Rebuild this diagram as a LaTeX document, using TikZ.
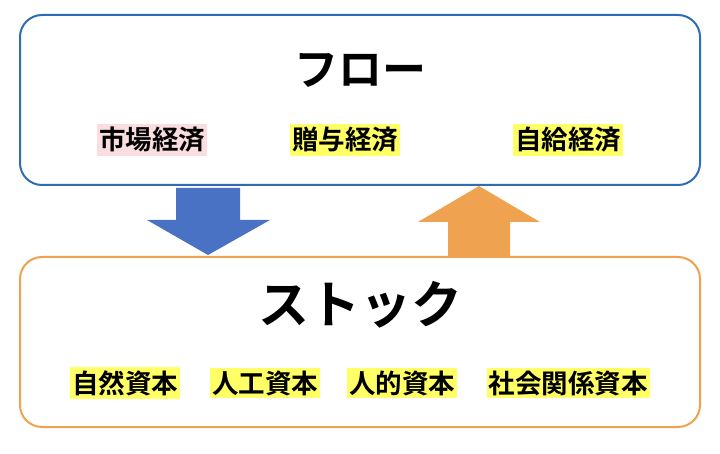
\documentclass[tikz,border=0pt]{standalone}
\usepackage{fontspec}
\newfontfamily\cjk{Noto Sans CJK JP}[BoldFont={* Bold}]
\definecolor{bblue}{HTML}{2E6DB4}
\definecolor{borange}{HTML}{EFA24F}
\definecolor{ablue}{HTML}{4A72C4}
\definecolor{aorange}{HTML}{EFA24F}
\definecolor{hy}{HTML}{FFFF66}
\definecolor{hp}{HTML}{F9DDE0}
\begin{document}
\begin{tikzpicture}[x=1pt,y=-1pt,
  panel/.style={draw,line width=2pt,rounded corners=22pt},
  lab/.style={font=\cjk\bfseries\fontsize{26.5}{31}\selectfont,inner xsep=2pt,inner ysep=3pt,fill=hy},
  ttl/.style={font=\cjk\bfseries\fontsize{44}{50}\selectfont}]
\useasboundingbox (0,0) rectangle (720,454);
\fill[white] (0,0) rectangle (720,454);
\draw[panel,bblue] (20,15) rectangle (700,185);
\draw[panel,borange] (20,257) rectangle (700,427);
\node[ttl] (flow) at (360,70) {フロー};
\node[lab,fill=hp] (m1) at (152,140) {市場経済};
\node[lab] (m2) at (345,140) {贈与経済};
\node[lab] (m3) at (568,140) {自給経済};
\node[ttl,font=\cjk\bfseries\fontsize{51}{58}\selectfont] (stock) at (360,305) {ストック};
\node[lab] (s1) at (125,383) {自然資本};
\node[lab] (s2) at (265,383) {人工資本};
\node[lab] (s3) at (402,383) {人的資本};
\node[lab] (s4) at (568,383) {社会関係資本};
\fill[ablue] (176,188) -- (240,188) -- (240,220) -- (270,220) -- (208,255) -- (147,220) -- (176,220) -- cycle;
\fill[aorange] (448,257) -- (510,257) -- (510,222) -- (540,222) -- (479,186) -- (418,222) -- (448,222) -- cycle;
\end{tikzpicture}
\end{document}
